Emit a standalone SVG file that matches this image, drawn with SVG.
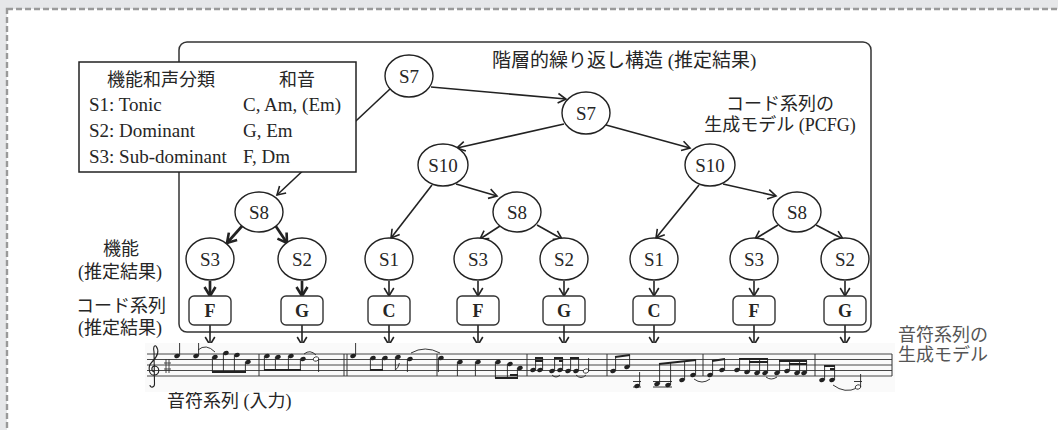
<svg xmlns="http://www.w3.org/2000/svg" xmlns:xlink="http://www.w3.org/1999/xlink" width="1058" height="430" viewBox="0 0 1058 430">
<style>
.t{font-family:"Liberation Serif","Noto Sans CJK JP",serif;fill:#262626}
.lab{font-size:18px}
.lg{font-size:19px}
.nd{font-size:19px;text-anchor:middle}
.ch{font-size:18px;font-weight:bold;text-anchor:middle}
.mid{text-anchor:middle}
.ell{fill:#fff;stroke:#222;stroke-width:1.4}
.box{fill:#fff;stroke:#333;stroke-width:1.4}
.e{stroke:#222;stroke-width:1.6;fill:none;marker-end:url(#ah)}
.eb{stroke:#222;stroke-width:2.7;fill:none;marker-end:url(#ahb)}
.st{stroke:#333;stroke-width:0.9}
.stem{stroke:#222;stroke-width:0.9}
.beam{stroke:#222;stroke-width:2}
.tie{fill:none;stroke:#222;stroke-width:0.9}
.bar{stroke:#333;stroke-width:1}
</style>
<defs>
<marker id="ah" viewBox="-11 -7 13 14" refX="0" refY="0" markerWidth="13" markerHeight="14" markerUnits="userSpaceOnUse" orient="auto">
<path d="M-8,-4.8 L0,0 L-8,4.8" fill="none" stroke="#222" stroke-width="1.6"/>
</marker>
<marker id="ahb" viewBox="-12 -8 14 16" refX="0" refY="0" markerWidth="14" markerHeight="16" markerUnits="userSpaceOnUse" orient="auto">
<path d="M-9,-5.5 L0,0 L-9,5.5" fill="none" stroke="#222" stroke-width="2.6"/>
</marker>
<ellipse id="h" rx="2.8" ry="2.1" transform="rotate(-20)" fill="#222"/>
<ellipse id="hh" rx="2.8" ry="2.1" transform="rotate(-20)" fill="#fff" stroke="#222" stroke-width="0.8"/>
</defs>

<rect x="0" y="0" width="1058" height="430" fill="#e6e7e9"/>
<rect x="7" y="9" width="1100" height="500" fill="#fff" stroke="#9a9a9a" stroke-width="2.4" stroke-dasharray="6,3"/>

<rect id="structure" x="179" y="42" width="692" height="290" rx="8" fill="none" stroke="#333" stroke-width="1.5"/>

<g id="connectors">
<line class="e" x1="431" y1="87" x2="566" y2="99"/>
<line class="e" x1="390" y1="89" x2="277" y2="195"/>
<line class="e" x1="564" y1="124" x2="457" y2="148"/>
<line class="e" x1="606" y1="125" x2="690" y2="148"/>
<line class="e" x1="432" y1="185" x2="391" y2="238"/>
<line class="e" x1="456" y1="184" x2="497" y2="196"/>
<line class="e" x1="699" y1="185" x2="656" y2="238"/>
<line class="e" x1="723" y1="184" x2="776" y2="196"/>
<line class="eb" x1="243" y1="225" x2="227" y2="243"/>
<line class="eb" x1="275" y1="225" x2="287" y2="243"/>
<line class="e" x1="500" y1="226" x2="480" y2="239"/>
<line class="e" x1="537" y1="225" x2="562" y2="239"/>
<line class="e" x1="778" y1="225" x2="755" y2="239"/>
<line class="e" x1="816" y1="225" x2="843" y2="239"/>
<line class="eb" x1="210" y1="281" x2="210" y2="296"/>
<line class="eb" x1="302" y1="281" x2="302" y2="296"/>
<line class="e" x1="389" y1="281" x2="389" y2="296"/>
<line class="e" x1="478" y1="281" x2="478" y2="296"/>
<line class="e" x1="564" y1="281" x2="564" y2="296"/>
<line class="e" x1="654" y1="281" x2="654" y2="296"/>
<line class="e" x1="754" y1="281" x2="754" y2="296"/>
<line class="e" x1="845" y1="281" x2="845" y2="296"/>
<line class="e" x1="210" y1="325" x2="210" y2="345"/>
<line class="e" x1="302" y1="325" x2="302" y2="345"/>
<line class="e" x1="389" y1="325" x2="389" y2="345"/>
<line class="e" x1="478" y1="325" x2="478" y2="345"/>
<line class="e" x1="564" y1="325" x2="564" y2="345"/>
<line class="e" x1="654" y1="325" x2="654" y2="345"/>
<line class="e" x1="754" y1="325" x2="754" y2="345"/>
<line class="e" x1="845" y1="325" x2="845" y2="345"/>
</g>

<g id="n-s7-top"><ellipse class="ell" cx="409" cy="76" rx="24" ry="21"/><text class="t nd" x="409" y="83">S7</text></g>
<g id="n-s7-mid"><ellipse class="ell" cx="586" cy="113" rx="24" ry="21"/><text class="t nd" x="586" y="120">S7</text></g>
<g id="n-s10-left"><ellipse class="ell" cx="443" cy="165" rx="25" ry="21"/><text class="t nd" x="443" y="172">S10</text></g>
<g id="n-s10-right"><ellipse class="ell" cx="710" cy="165" rx="25" ry="21"/><text class="t nd" x="710" y="172">S10</text></g>
<g id="n-s8-left"><ellipse class="ell" cx="259" cy="212" rx="24" ry="20"/><text class="t nd" x="259" y="219">S8</text></g>
<g id="n-s8-mid"><ellipse class="ell" cx="517" cy="212" rx="24" ry="20"/><text class="t nd" x="517" y="219">S8</text></g>
<g id="n-s8-right"><ellipse class="ell" cx="797" cy="212" rx="24" ry="20"/><text class="t nd" x="797" y="219">S8</text></g>

<g id="n-f1"><ellipse class="ell" cx="210" cy="259" rx="24" ry="21"/><text class="t nd" x="210" y="266">S3</text></g>
<g id="n-f2"><ellipse class="ell" cx="302" cy="259" rx="24" ry="21"/><text class="t nd" x="302" y="266">S2</text></g>
<g id="n-f3"><ellipse class="ell" cx="389" cy="259" rx="24" ry="21"/><text class="t nd" x="389" y="266">S1</text></g>
<g id="n-f4"><ellipse class="ell" cx="478" cy="259" rx="24" ry="21"/><text class="t nd" x="478" y="266">S3</text></g>
<g id="n-f5"><ellipse class="ell" cx="564" cy="259" rx="24" ry="21"/><text class="t nd" x="564" y="266">S2</text></g>
<g id="n-f6"><ellipse class="ell" cx="654" cy="259" rx="24" ry="21"/><text class="t nd" x="654" y="266">S1</text></g>
<g id="n-f7"><ellipse class="ell" cx="754" cy="259" rx="24" ry="21"/><text class="t nd" x="754" y="266">S3</text></g>
<g id="n-f8"><ellipse class="ell" cx="845" cy="259" rx="24" ry="21"/><text class="t nd" x="845" y="266">S2</text></g>

<g id="c1"><rect class="box" x="189" y="296" width="42" height="29" rx="5"/><text class="t ch" x="210" y="317">F</text></g>
<g id="c2"><rect class="box" x="281" y="296" width="42" height="29" rx="5"/><text class="t ch" x="302" y="317">G</text></g>
<g id="c3"><rect class="box" x="368" y="296" width="42" height="29" rx="5"/><text class="t ch" x="389" y="317">C</text></g>
<g id="c4"><rect class="box" x="457" y="296" width="42" height="29" rx="5"/><text class="t ch" x="478" y="317">F</text></g>
<g id="c5"><rect class="box" x="543" y="296" width="42" height="29" rx="5"/><text class="t ch" x="564" y="317">G</text></g>
<g id="c6"><rect class="box" x="633" y="296" width="42" height="29" rx="5"/><text class="t ch" x="654" y="317">C</text></g>
<g id="c7"><rect class="box" x="733" y="296" width="42" height="29" rx="5"/><text class="t ch" x="754" y="317">F</text></g>
<g id="c8"><rect class="box" x="824" y="296" width="42" height="29" rx="5"/><text class="t ch" x="845" y="317">G</text></g>

<g id="legend">
<rect x="79" y="62" width="277" height="110" fill="#fff" stroke="#222" stroke-width="1.5"/>
<text class="t lab mid" x="161" y="86">機能和声分類</text>
<text class="t lab mid" x="297" y="86">和音</text>
<text class="t lg" x="89" y="111">S1: Tonic</text>
<text class="t lg" x="243" y="111">C, Am, (Em)</text>
<text class="t lg" x="89" y="137">S2: Dominant</text>
<text class="t lg" x="243" y="137">G, Em</text>
<text class="t lg" x="89" y="163">S3: Sub-dominant</text>
<text class="t lg" x="243" y="163">F, Dm</text>
</g>

<g id="labels">
<text class="t" x="492" y="67" style="font-size:19px">階層的繰り返し構造 (推定結果)</text>
<text class="t lab mid" x="780" y="110">コード系列の</text>
<text class="t lab mid" x="780" y="131">生成モデル (PCFG)</text>
<text class="t lab mid" x="121" y="255">機能</text>
<text class="t lab mid" x="120" y="278">(推定結果)</text>
<text class="t lab mid" x="121" y="312">コード系列</text>
<text class="t lab mid" x="120" y="334">(推定結果)</text>
<text class="t lab" x="167" y="407">音符系列 (入力)</text>
<text class="t lab" x="898" y="341" style="fill:#555">音符系列の</text>
<text class="t lab" x="898" y="361" style="fill:#555">生成モデル</text>
</g>

<g id="score">
<rect x="145" y="343" width="750" height="49" fill="#fafafa"/>
<g class="st">
<line x1="147" y1="354" x2="892" y2="354"/>
<line x1="147" y1="359.5" x2="892" y2="359.5"/>
<line x1="147" y1="365" x2="892" y2="365"/>
<line x1="147" y1="370.5" x2="892" y2="370.5"/>
<line x1="147" y1="376" x2="892" y2="376"/>
</g>
<path d="M156,346 C159,350 158,356 152,362 C147,367 149,376 155,375 C160,374 160,367 155,366 C151,366 151,371 154,372 M156,346 C154,345 153,348 154,352 L154.5,384 C154.5,388 150,388 150,385" fill="none" stroke="#222" stroke-width="1.1"/>
<path d="M166,359 L166,373 M169,359 L169,373 M164,363 L171,363 M164,369 L171,369" fill="none" stroke="#333" stroke-width="0.9"/>
<g class="bar">
<line x1="259" y1="354" x2="259" y2="376"/>
<line x1="344" y1="354" x2="344" y2="376"/>
<line x1="347" y1="354" x2="347" y2="376"/>
<line x1="437" y1="354" x2="437" y2="376"/>
<line x1="527" y1="354" x2="527" y2="376"/>
<line x1="607" y1="354" x2="607" y2="376"/>
<line x1="703" y1="354" x2="703" y2="376"/>
<line x1="815" y1="354" x2="815" y2="376"/>
<line x1="892" y1="354" x2="892" y2="376"/>
</g>
<g id="m1">
<use href="#h" x="177" y="356"/><line class="stem" x1="179.6" y1="356" x2="179.6" y2="343"/>
<use href="#h" x="196" y="356"/><line class="stem" x1="198.6" y1="356" x2="198.6" y2="343"/>
<path class="tie" d="M198,350 Q206,343 215,352"/>
<use href="#h" x="215" y="357"/><use href="#h" x="226" y="353"/><use href="#h" x="237" y="355"/><use href="#h" x="248" y="362"/>
<line class="stem" x1="212.4" y1="357" x2="212.4" y2="372"/><line class="stem" x1="223.4" y1="353" x2="223.4" y2="372"/><line class="stem" x1="234.4" y1="355" x2="234.4" y2="372"/><line class="stem" x1="245.4" y1="362" x2="245.4" y2="372"/>
<line class="beam" x1="212" y1="372" x2="246" y2="372"/>
</g>
<g id="m2">
<use href="#h" x="267" y="356"/><use href="#h" x="278" y="357"/><use href="#h" x="291" y="356"/><use href="#h" x="303" y="359"/>
<line class="stem" x1="264.4" y1="356" x2="264.4" y2="370"/><line class="stem" x1="275.4" y1="357" x2="275.4" y2="370"/><line class="stem" x1="288.4" y1="356" x2="288.4" y2="370"/><line class="stem" x1="300.4" y1="359" x2="300.4" y2="370"/>
<line class="beam" x1="264" y1="370" x2="301" y2="370"/>
<path class="tie" d="M304,354 Q310,349 316,355"/>
<use href="#hh" x="316" y="359"/><line class="stem" x1="318.6" y1="359" x2="318.6" y2="372"/>
</g>
<g id="m3">
<use href="#h" x="353" y="356"/><line class="stem" x1="355.6" y1="356" x2="355.6" y2="343"/>
<use href="#h" x="373" y="358"/><use href="#h" x="385" y="358"/>
<line class="stem" x1="370.4" y1="358" x2="370.4" y2="370"/><line class="stem" x1="382.4" y1="358" x2="382.4" y2="370"/>
<line class="beam" x1="370" y1="370" x2="383" y2="370"/>
<use href="#h" x="398" y="357"/><line class="stem" x1="395.4" y1="357" x2="395.4" y2="370"/><path class="tie" d="M395.4,370 q3,-2 4,-7"/>
<use href="#h" x="410" y="359"/><line class="stem" x1="407.4" y1="359" x2="407.4" y2="372"/>
<path class="tie" d="M411,353 Q425,345 440,353"/>
</g>
<g id="m4">
<use href="#h" x="441" y="358"/><line class="stem" x1="438.4" y1="358" x2="438.4" y2="372"/>
<use href="#h" x="460" y="362"/><line class="stem" x1="457.4" y1="362" x2="457.4" y2="376"/>
<use href="#h" x="478" y="362"/><line class="stem" x1="475.4" y1="362" x2="475.4" y2="376"/>
<use href="#h" x="498" y="362"/><use href="#h" x="510" y="364"/><use href="#h" x="520" y="368"/>
<line class="stem" x1="495.4" y1="362" x2="495.4" y2="378"/><line class="stem" x1="507.4" y1="364" x2="507.4" y2="378"/><line class="stem" x1="517.4" y1="368" x2="517.4" y2="378"/>
<line class="beam" x1="495" y1="378" x2="518" y2="378"/><line class="beam" x1="510" y1="375" x2="518" y2="375"/>
</g>
<g id="m5">
<use href="#h" x="533" y="370"/><use href="#h" x="540" y="370"/>
<line class="stem" x1="535.6" y1="370" x2="535.6" y2="358"/><line class="stem" x1="542.6" y1="370" x2="542.6" y2="358"/>
<line class="beam" x1="535" y1="358" x2="543" y2="358"/><line class="beam" x1="535" y1="361" x2="543" y2="361"/>
<use href="#h" x="552" y="371"/><use href="#h" x="560" y="370"/>
<line class="stem" x1="554.6" y1="371" x2="554.6" y2="358"/><line class="stem" x1="562.6" y1="370" x2="562.6" y2="358"/>
<line class="beam" x1="554" y1="358" x2="563" y2="358"/><line class="beam" x1="559" y1="361" x2="563" y2="361"/>
<path class="tie" d="M552,375 Q556,379 560,375"/>
<use href="#h" x="568" y="371"/><use href="#h" x="576" y="371"/>
<line class="stem" x1="570.6" y1="371" x2="570.6" y2="358"/><line class="stem" x1="578.6" y1="371" x2="578.6" y2="358"/>
<line class="beam" x1="570" y1="358" x2="579" y2="358"/>
<path class="tie" d="M576,375 Q581,380 586,375"/>
<use href="#hh" x="586" y="371"/><line class="stem" x1="588.6" y1="371" x2="588.6" y2="358"/>
</g>
<g id="m6">
<use href="#h" x="613" y="371"/><use href="#h" x="627" y="367"/>
<line class="stem" x1="615.6" y1="371" x2="615.6" y2="357"/><line class="stem" x1="629.6" y1="367" x2="629.6" y2="355"/>
<line class="beam" x1="615" y1="357" x2="630" y2="355"/>
<line class="stem" x1="633" y1="381.5" x2="641" y2="381.5"/><line class="stem" x1="633" y1="387" x2="641" y2="387"/>
<use href="#h" x="637" y="386"/><line class="stem" x1="639.6" y1="386" x2="639.6" y2="372"/>
<line class="stem" x1="653" y1="381.5" x2="672" y2="381.5"/><line class="stem" x1="653" y1="387" x2="672" y2="387"/>
<use href="#h" x="657" y="384"/><use href="#h" x="668" y="385"/><use href="#h" x="682" y="380"/><use href="#h" x="693" y="375"/>
<line class="stem" x1="659.6" y1="384" x2="659.6" y2="364"/><line class="stem" x1="670.6" y1="385" x2="670.6" y2="363"/><line class="stem" x1="684.6" y1="380" x2="684.6" y2="361"/><line class="stem" x1="695.6" y1="375" x2="695.6" y2="360"/>
<line class="beam" x1="659" y1="364" x2="696" y2="360"/>
<path class="tie" d="M694,379 Q702,385 710,379"/>
</g>
<g id="m7">
<use href="#h" x="710" y="375"/><use href="#h" x="722" y="370"/>
<line class="stem" x1="712.6" y1="375" x2="712.6" y2="361"/><line class="stem" x1="724.6" y1="370" x2="724.6" y2="359"/>
<line class="beam" x1="712" y1="361" x2="725" y2="359"/>
<use href="#h" x="737" y="370"/><use href="#h" x="747" y="372"/><use href="#h" x="757" y="373"/><use href="#h" x="765" y="373"/>
<line class="stem" x1="739.6" y1="370" x2="739.6" y2="359"/><line class="stem" x1="749.6" y1="372" x2="749.6" y2="359"/><line class="stem" x1="759.6" y1="373" x2="759.6" y2="359"/><line class="stem" x1="767.6" y1="373" x2="767.6" y2="359"/>
<line class="beam" x1="739" y1="359" x2="768" y2="359"/><line class="beam" x1="749" y1="362" x2="768" y2="362"/>
<path class="tie" d="M766,377 Q771,381 777,377"/>
<use href="#h" x="777" y="373"/><use href="#h" x="787" y="371"/><use href="#h" x="797" y="373"/><use href="#h" x="804" y="373"/>
<line class="stem" x1="779.6" y1="373" x2="779.6" y2="361"/><line class="stem" x1="789.6" y1="371" x2="789.6" y2="361"/><line class="stem" x1="799.6" y1="373" x2="799.6" y2="361"/><line class="stem" x1="806.6" y1="373" x2="806.6" y2="361"/>
<line class="beam" x1="779" y1="361" x2="807" y2="361"/><line class="beam" x1="789" y1="364" x2="807" y2="364"/>
</g>
<g id="m8">
<use href="#h" x="822" y="380"/><use href="#h" x="832" y="380"/>
<line class="stem" x1="824.6" y1="380" x2="824.6" y2="366"/><line class="stem" x1="834.6" y1="380" x2="834.6" y2="366"/>
<line class="beam" x1="824" y1="366" x2="835" y2="366"/><line class="beam" x1="830" y1="369" x2="835" y2="369"/>
<path class="tie" d="M833,385 Q845,394 857,388"/>
<line class="stem" x1="854" y1="381.5" x2="862" y2="381.5"/>
<use href="#hh" x="858" y="387"/><line class="stem" x1="860.6" y1="387" x2="860.6" y2="374"/>
</g>
</g>
</svg>
